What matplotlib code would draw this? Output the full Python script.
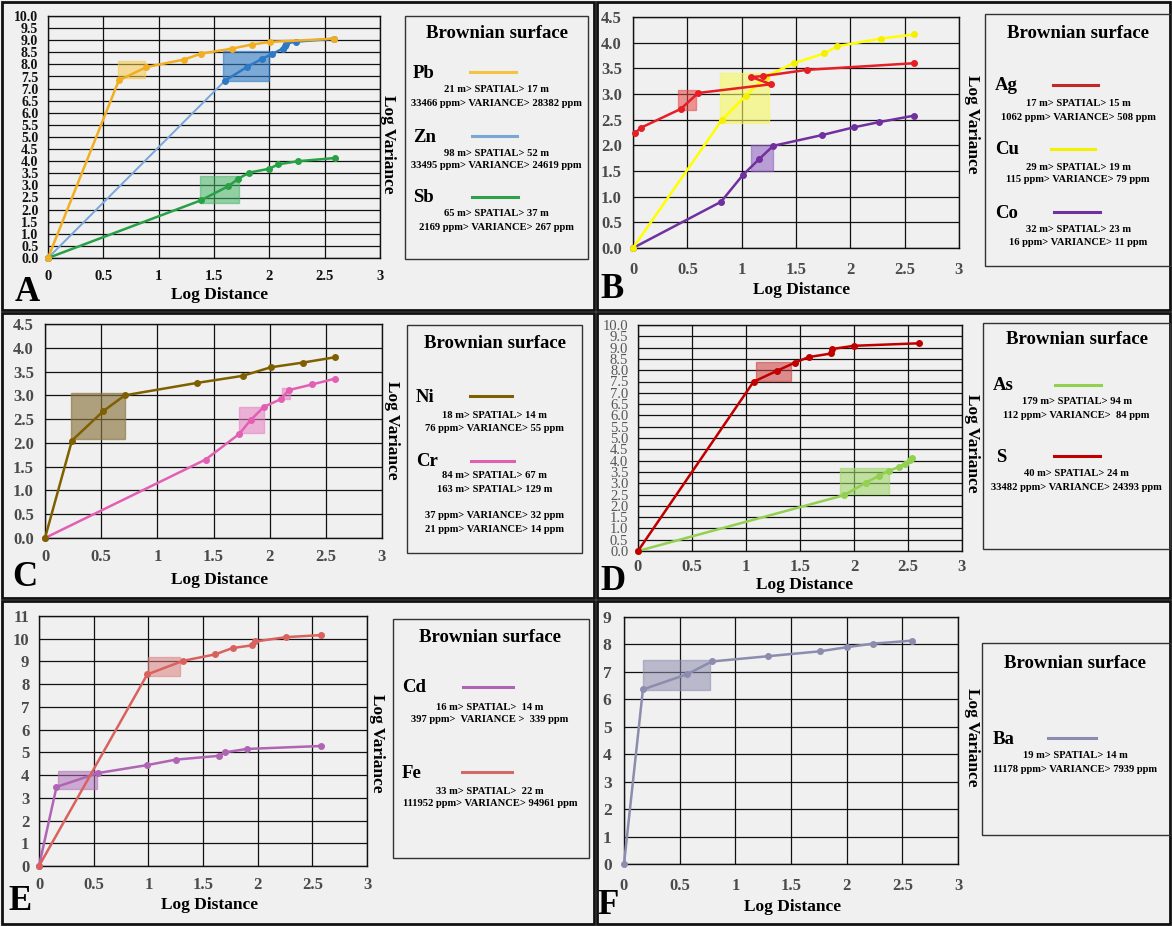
import matplotlib
matplotlib.use("Agg")
import matplotlib.pyplot as plt
from matplotlib.patches import Rectangle
from matplotlib.lines import Line2D

plt.rcParams['font.family'] = ['Liberation Serif', 'DejaVu Serif']

W, H = 1172, 926
BG = '#f0f0f0'

# ---------------- data: log distance / log variance ----------------
# panel A
pb_x = [0, 0.64, 0.89, 1.23, 1.38, 1.66, 1.84, 2.01, 2.58]
pb_y = [0, 7.34, 7.89, 8.20, 8.44, 8.65, 8.82, 8.93, 9.06]
zn_x = [0, 1.60, 1.80, 1.93, 2.02, 2.12, 2.14, 2.15, 2.24, 2.58]
zn_y = [0, 7.33, 7.90, 8.22, 8.42, 8.65, 8.76, 8.86, 8.94, 9.06]
sb_x = [0, 1.38, 1.63, 1.72, 1.82, 2.00, 2.08, 2.26, 2.59]
sb_y = [0, 2.38, 2.97, 3.28, 3.53, 3.69, 3.87, 4.00, 4.13]
pb_box = [0.63, 0.88, 7.45, 8.13]
zn_box = [1.58, 2.00, 7.30, 8.55]
sb_box = [1.37, 1.73, 2.29, 3.37]

# panel B
ag_x = [0.02, 0.07, 0.44, 0.60, 1.27, 1.09, 1.20, 1.60, 2.59]
ag_y = [2.24, 2.34, 2.71, 3.02, 3.19, 3.33, 3.35, 3.47, 3.60]
cu_x = [0, 0.82, 1.04, 1.22, 1.48, 1.76, 1.88, 2.28, 2.59]
cu_y = [0, 2.50, 2.97, 3.34, 3.60, 3.79, 3.93, 4.08, 4.16]
co_x = [0, 0.81, 1.01, 1.16, 1.29, 1.74, 2.03, 2.26, 2.59]
co_y = [0, 0.90, 1.42, 1.73, 1.99, 2.20, 2.35, 2.45, 2.58]
ag_box = [0.41, 0.58, 2.69, 3.08]
cu_box = [0.80, 1.25, 2.44, 3.41]
co_box = [1.09, 1.29, 1.50, 2.00]

# panel C
ni_x = [0, 0.24, 0.52, 0.71, 1.35, 1.76, 2.01, 2.30, 2.58]
ni_y = [0, 2.05, 2.67, 3.00, 3.26, 3.41, 3.59, 3.69, 3.80]
cr_x = [0, 1.43, 1.73, 1.83, 1.95, 2.10, 2.17, 2.38, 2.58]
cr_y = [0, 1.65, 2.19, 2.48, 2.76, 2.92, 3.11, 3.23, 3.35]
ni_box = [0.23, 0.71, 2.09, 3.04]
cr_box1 = [1.73, 1.95, 2.20, 2.76]
cr_box2 = [2.11, 2.18, 2.93, 3.15]

# panel D
s_x = [0, 1.07, 1.29, 1.45, 1.58, 1.79, 1.80, 2.00, 2.60]
s_y = [0, 7.49, 7.98, 8.33, 8.58, 8.74, 8.94, 9.08, 9.19]
as_x = [0, 1.91, 2.11, 2.23, 2.32, 2.42, 2.47, 2.52, 2.54]
as_y = [0, 2.47, 3.03, 3.32, 3.55, 3.72, 3.87, 4.02, 4.12]
s_box = [1.09, 1.42, 7.53, 8.37]
as_box = [1.87, 2.32, 2.54, 3.69]

# panel E
fe_x = [0, 0.99, 1.32, 1.61, 1.77, 1.95, 1.98, 2.26, 2.58]
fe_y = [0, 8.43, 9.03, 9.31, 9.59, 9.71, 9.88, 10.07, 10.16]
cd_x = [0, 0.16, 0.54, 0.99, 1.25, 1.65, 1.70, 1.90, 2.58]
cd_y = [0, 3.48, 4.09, 4.44, 4.68, 4.85, 5.00, 5.15, 5.28]
fe_box = [1.00, 1.29, 8.37, 9.19]
cd_box = [0.17, 0.53, 3.39, 4.18]

# panel F
ba_x = [0, 0.17, 0.57, 0.79, 1.29, 1.76, 2.00, 2.24, 2.59]
ba_y = [0, 6.36, 6.92, 7.38, 7.57, 7.75, 7.90, 8.03, 8.14]
ba_box = [0.17, 0.77, 6.33, 7.45]

x_ticks = [0, 0.5, 1, 1.5, 2, 2.5, 3]
x_labels = ['0', '0.5', '1', '1.5', '2', '2.5', '3']

# legend notes
pb_note = ['21 m> SPATIAL> 17 m', '33466 ppm> VARIANCE> 28382 ppm']
zn_note = ['98 m> SPATIAL> 52 m', '33495 ppm> VARIANCE> 24619 ppm']
sb_note = ['65 m> SPATIAL> 37 m', '2169 ppm> VARIANCE> 267 ppm']
ag_note = ['17 m> SPATIAL> 15 m', '1062 ppm> VARIANCE> 508 ppm']
cu_note = ['29 m> SPATIAL> 19 m', '115 ppm> VARIANCE> 79 ppm']
co_note = ['32 m> SPATIAL> 23 m', '16 ppm> VARIANCE> 11 ppm']
ni_note = ['18 m> SPATIAL> 14 m', '76 ppm> VARIANCE> 55 ppm']
cr_note = ['84 m> SPATIAL> 67 m', '163 m> SPATIAL> 129 m',
           '37 ppm> VARIANCE> 32 ppm', '21 ppm> VARIANCE> 14 ppm']
as_note = ['179 m> SPATIAL> 94 m', '112 ppm> VARIANCE>  84 ppm']
s_note = ['40 m> SPATIAL> 24 m', '33482 ppm> VARIANCE> 24393 ppm']
cd_note = ['16 m> SPATIAL>  14 m', '397 ppm>  VARIANCE >  339 ppm']
fe_note = ['33 m> SPATIAL>  22 m', '111952 ppm> VARIANCE> 94961 ppm']
ba_note = ['19 m> SPATIAL> 14 m', '11178 ppm> VARIANCE> 7939 ppm']

fig = plt.figure(figsize=(W / 100, H / 100), dpi=100)
fig.patch.set_facecolor(BG)


def fx(x):
    return x / W


def fy(y):
    return 1 - y / H


def txt(x, y, s, **kw):
    kw.setdefault('ha', 'center')
    kw.setdefault('va', 'center')
    fig.text(fx(x), fy(y), s, **kw)


def frame(x0, y0, x1, y1, lw=2.0, ec='#111111'):
    fig.add_artist(Rectangle((fx(x0), fy(y1)), (x1 - x0) / W, (y1 - y0) / H,
                             transform=fig.transFigure, fill=False, lw=lw, ec=ec))


def hline(x0, x1, y, color):
    fig.add_artist(Line2D([fx(x0), fx(x1)], [fy(y), fy(y)], transform=fig.transFigure,
                          color=color, lw=2.2))


def make_axes(x0, y0, x1, y1, ymax, ystep, yfmt, xpad, ypad,
              ycol='#4a4a4a', xcol='#4a4a4a', ybold=True, xbold=True, yfs=11.5, xfs=12):
    ax = fig.add_axes([fx(x0), fy(y1), (x1 - x0) / W, (y1 - y0) / H])
    ax.set_facecolor(BG)
    ax.set_xlim(0, 3)
    ax.set_ylim(0, ymax)
    ax.set_xticks(x_ticks)
    ax.set_xticklabels(x_labels)
    n = int(round(ymax / ystep))
    yt = [i * ystep for i in range(n + 1)]
    ax.set_yticks(yt)
    ax.set_yticklabels([yfmt.format(v) for v in yt])
    ax.grid(True, color='#111111', lw=0.9)
    ax.set_axisbelow(True)
    ax.tick_params(axis='x', length=0, pad=xpad, labelsize=xfs, labelcolor=xcol)
    ax.tick_params(axis='y', length=0, pad=ypad, labelsize=yfs, labelcolor=ycol)
    for lab in ax.get_yticklabels():
        lab.set_fontweight('bold' if ybold else 'normal')
    for lab in ax.get_xticklabels():
        lab.set_fontweight('bold' if xbold else 'normal')
    for sp in ax.spines.values():
        sp.set_color('#111111')
        sp.set_linewidth(1.0)
    return ax


def series(ax, x, y, color, lw=1.8, ms=4.0, mcolor=None):
    ax.plot(x, y, '-o', color=color, lw=lw, ms=ms, mfc=mcolor or color,
            mec=mcolor or color, zorder=4, clip_on=False)


def shade(ax, b, color, alpha=0.55):
    ax.add_patch(Rectangle((b[0], b[2]), b[1] - b[0], b[3] - b[2], fc=color,
                           ec=color, alpha=alpha, lw=1.0, zorder=3))


def legend(x0, y0, x1, y1, title_y, entries, cx=None):
    frame(x0, y0, x1, y1, lw=1.0, ec='#333333')
    cx = cx if cx is not None else (x0 + x1) / 2
    txt(cx, title_y, 'Brownian surface', fontsize=13.5, fontweight='bold')
    for name, nx, ny, lx0, lx1, col, notes, noty in entries:
        txt(nx, ny, name, ha='left', fontsize=13.5, fontweight='bold')
        hline(lx0, lx1, ny - 1, col)
        for s, yy in zip(notes, noty):
            txt(cx, yy, s, fontsize=7.6, fontweight='bold')


def labels(cx_dist, y_dist, x_var, y_var, letter, lx, ly):
    txt(cx_dist, y_dist, 'Log Distance', fontsize=12.5, fontweight='bold')
    txt(x_var, y_var, 'Log Variance', fontsize=12.5, fontweight='bold', rotation=270)
    txt(lx, ly, letter, fontsize=25, fontweight='bold')


# ---------------- panel frames ----------------
frame(2, 2, 594, 310)
frame(597, 2, 1170, 310)
frame(2, 313, 594, 598)
frame(597, 313, 1170, 598)
frame(2, 601, 594, 924)
frame(597, 601, 1170, 924)

# ---------------- A ----------------
axA = make_axes(48, 16, 380, 258, 10, 0.5, '{:.1f}', 9, 7,
                ycol='#111111', xcol='#111111', yfs=10, xfs=10.5)
shade(axA, pb_box, '#f6c84a')
shade(axA, zn_box, '#2f7bc4', 0.6)
shade(axA, sb_box, '#45b465')
axA.plot(zn_x[:2], zn_y[:2], color='#78a7d9', lw=1.4, zorder=4)
series(axA, zn_x[1:], zn_y[1:], '#2f78c2', lw=1.8)
axA.plot(zn_x[0], zn_y[0], 'o', color='#2f78c2', ms=4.0, zorder=4, clip_on=False)
series(axA, sb_x, sb_y, '#27a046')
series(axA, pb_x, pb_y, '#f2ae22')
labels(220, 295, 388, 144, 'A', 27, 292)
legend(405, 16, 588, 259, 34, [
    ('Pb', 413, 73, 470, 516, '#f5c342', pb_note, [90, 103]),
    ('Zn', 413, 137, 472, 517, '#7ba7d6', zn_note, [153, 165]),
    ('Sb', 413, 198, 472, 518, '#2ea04a', sb_note, [214, 228]),
])

# ---------------- B ----------------
axB = make_axes(633, 17, 959, 248, 4.5, 0.5, '{:.1f}', 10, 8, yfs=12)
shade(axB, cu_box, '#f7f760', 0.6)
shade(axB, ag_box, '#e84848')
shade(axB, co_box, '#8a5cc0')
series(axB, co_x, co_y, '#7030a0')
series(axB, cu_x, cu_y, '#ffff00', mcolor='#f4f000')
series(axB, ag_x, ag_y, '#e61e25')
labels(802, 290, 972, 124, 'B', 612, 289)
legend(985, 14, 1171, 266, 34, [
    ('Ag', 995, 86, 1053, 1098, '#c0282a', ag_note, [103, 117]),
    ('Cu', 995, 150, 1051, 1095, '#f2f200', cu_note, [167, 180]),
    ('Co', 995, 213, 1054, 1100, '#7030a0', co_note, [229, 243]),
])

# ---------------- C ----------------
axC = make_axes(45, 324, 382, 538, 4.5, 0.5, '{:.1f}', 8, 8, yfs=12)
shade(axC, ni_box, '#8b7440', 0.65)
shade(axC, cr_box1, '#e77cc2')
shade(axC, cr_box2, '#e77cc2')
series(axC, cr_x, cr_y, '#e35fb4')
series(axC, ni_x, ni_y, '#7f6000')
labels(220, 580, 392, 430, 'C', 25, 577)
legend(407, 325, 582, 553, 344, [
    ('Ni', 416, 397, 470, 512, '#7f6000', ni_note, [416, 428]),
    ('Cr', 416, 462, 471, 514, '#e060b0', cr_note, [476, 490, 516, 529]),
])

# ---------------- D ----------------
axD = make_axes(638, 325, 962, 551, 10, 0.5, '{:.1f}', 6, 7,
                ycol='#555555', ybold=False, yfs=10.5)
shade(axD, s_box, '#cc3a3a', 0.55)
shade(axD, as_box, '#9fd66a', 0.6)
series(axD, as_x, as_y, '#92d050')
series(axD, s_x, s_y, '#c00000')
labels(805, 585, 972, 443, 'D', 613, 582)
legend(983, 323, 1170, 549, 340, [
    ('As', 993, 386, 1055, 1101, '#92d050', as_note, [402, 416]),
    ('S', 996, 457, 1054, 1100, '#c00000', s_note, [474, 487]),
])

# ---------------- E ----------------
axE = make_axes(39, 616, 367, 866, 11, 1, '{:.0f}', 8, 7, yfs=12)
shade(axE, fe_box, '#dd8080')
shade(axE, cd_box, '#b070b8')
series(axE, cd_x, cd_y, '#b064b4')
series(axE, fe_x, fe_y, '#d9625e')
labels(210, 905, 377, 743, 'E', 20, 902)
legend(393, 619, 589, 858, 638, [
    ('Cd', 402, 688, 463, 513, '#b064b4', cd_note, [707, 719]),
    ('Fe', 402, 773, 462, 512, '#d06b6b', fe_note, [792, 803]),
], cx=490)

# ---------------- F ----------------
axF = make_axes(624, 617, 958, 864, 9, 1, '{:.0f}', 10, 9, yfs=12.5)
shade(axF, ba_box, '#8c8cae', 0.55)
series(axF, ba_x, ba_y, '#8c8cae')
labels(793, 907, 972, 737, 'F', 608, 905)
legend(982, 643, 1171, 835, 663, [
    ('Ba', 993, 739, 1048, 1096, '#8c8cb0', ba_note, [756, 769]),
], cx=1075)

fig.savefig('out.png', dpi=100, facecolor=BG)
